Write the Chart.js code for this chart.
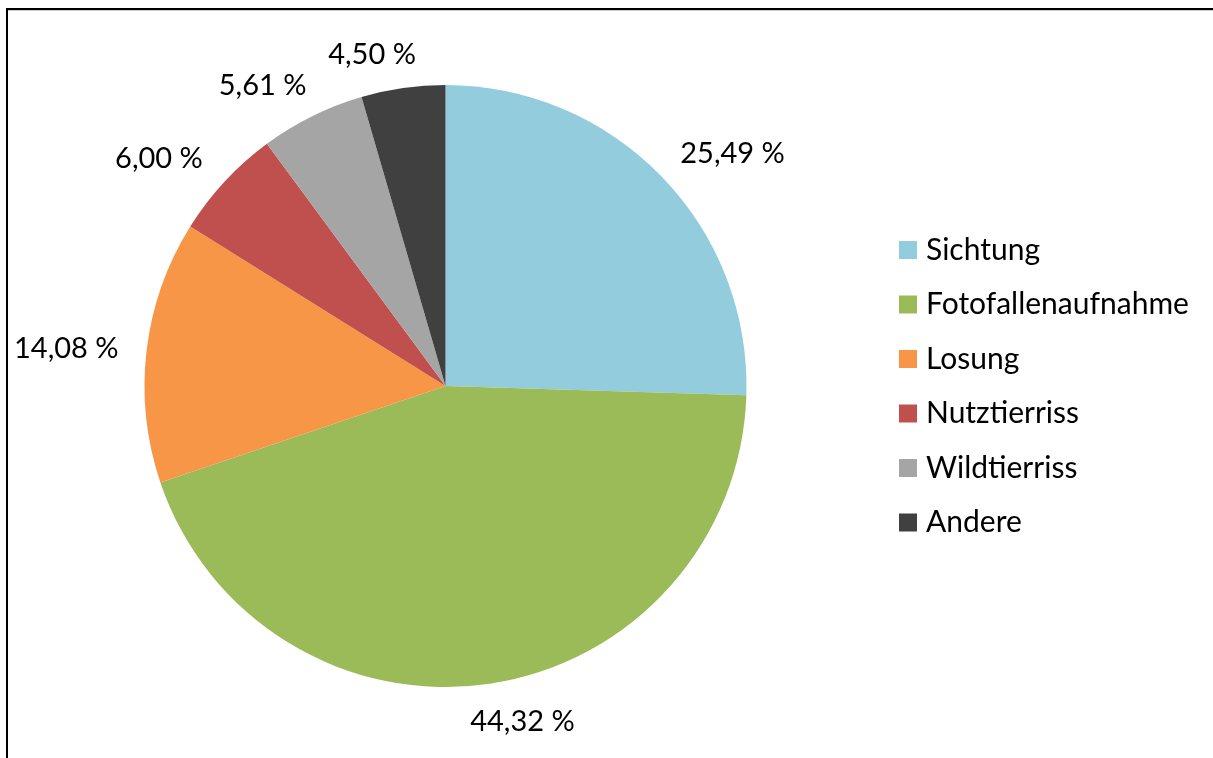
<!DOCTYPE html>
<html><head><meta charset="utf-8">
<script src="https://cdn.jsdelivr.net/npm/chart.js@4/dist/chart.umd.min.js"></script>
<style>
html,body{margin:0;padding:0;background:#fff;}
#wrap{position:relative;width:1213px;height:758px;overflow:hidden;}
#frame{position:absolute;left:6px;top:8px;width:1300px;height:800px;border-left:2.5px solid #000;border-top:2.5px solid #000;box-shadow:inset 0 1px 0 #ccc;}
canvas{position:absolute;left:0;top:0;}
</style></head>
<body><div id="wrap"><div id="frame"></div><canvas id="c" width="1213" height="758"></canvas></div>
<script>
const categories = ["Sichtung","Fotofallenaufnahme","Losung","Nutztierriss","Wildtierriss","Andere"];
const values = [25.49, 44.32, 14.08, 6.00, 5.61, 4.50];
const valueLabels = ["25,49 %","44,32 %","14,08 %","6,00 %","5,61 %","4,50 %"];
const colors = ["#93CDDD","#9BBB59","#F79646","#C0504D","#A5A5A5","#404040"];
const FONT = "Lato, 'Open Sans', sans-serif";

const labelPlugin = {
  id:'outLabels',
  afterDatasetsDraw(chart){
    const ctx = chart.ctx;
    const meta = chart.getDatasetMeta(0);
    ctx.save();
    ctx.font = "29px " + FONT;
    ctx.fillStyle = "#000";
    ctx.textAlign = "center";
    ctx.textBaseline = "middle";
    meta.data.forEach((arc,i)=>{
      const a = (arc.startAngle + arc.endAngle)/2;
      const s = Math.cos(a), c = Math.sin(a);
      const R = arc.outerRadius + 21;
      const w = ctx.measureText(valueLabels[i]).width, h = 30;
      let x = arc.x + R*s + (w/2)*s + 22*Math.sign(s)*Math.sqrt(Math.abs(c));
      let y = arc.y + R*c + (h/2)*c + 2;
      ctx.fillText(valueLabels[i], x, y);
    });
    ctx.restore();
  }
};
const legendPlugin = {
  id:'sideLegend',
  afterDraw(chart){
    const ctx = chart.ctx;
    ctx.save();
    ctx.font = "30px " + FONT;
    ctx.textBaseline = "middle";
    ctx.textAlign = "left";
    categories.forEach((name,i)=>{
      const y = 250 + i*54.5;
      ctx.fillStyle = colors[i];
      ctx.fillRect(899, y-9, 18, 18);
      ctx.fillStyle = "#000";
      ctx.fillText(name, 926, y);
    });
    ctx.restore();
  }
};

new Chart(document.getElementById('c'), {
  type:'pie',
  data:{labels:categories, datasets:[{data:values, backgroundColor:colors, borderWidth:0}]},
  options:{
    responsive:false, animation:false,
    layout:{padding:{left:144, right:466, top:85, bottom:71}},
    plugins:{legend:{display:false}, tooltip:{enabled:false}}
  },
  plugins:[labelPlugin, legendPlugin]
});
</script></body></html>
